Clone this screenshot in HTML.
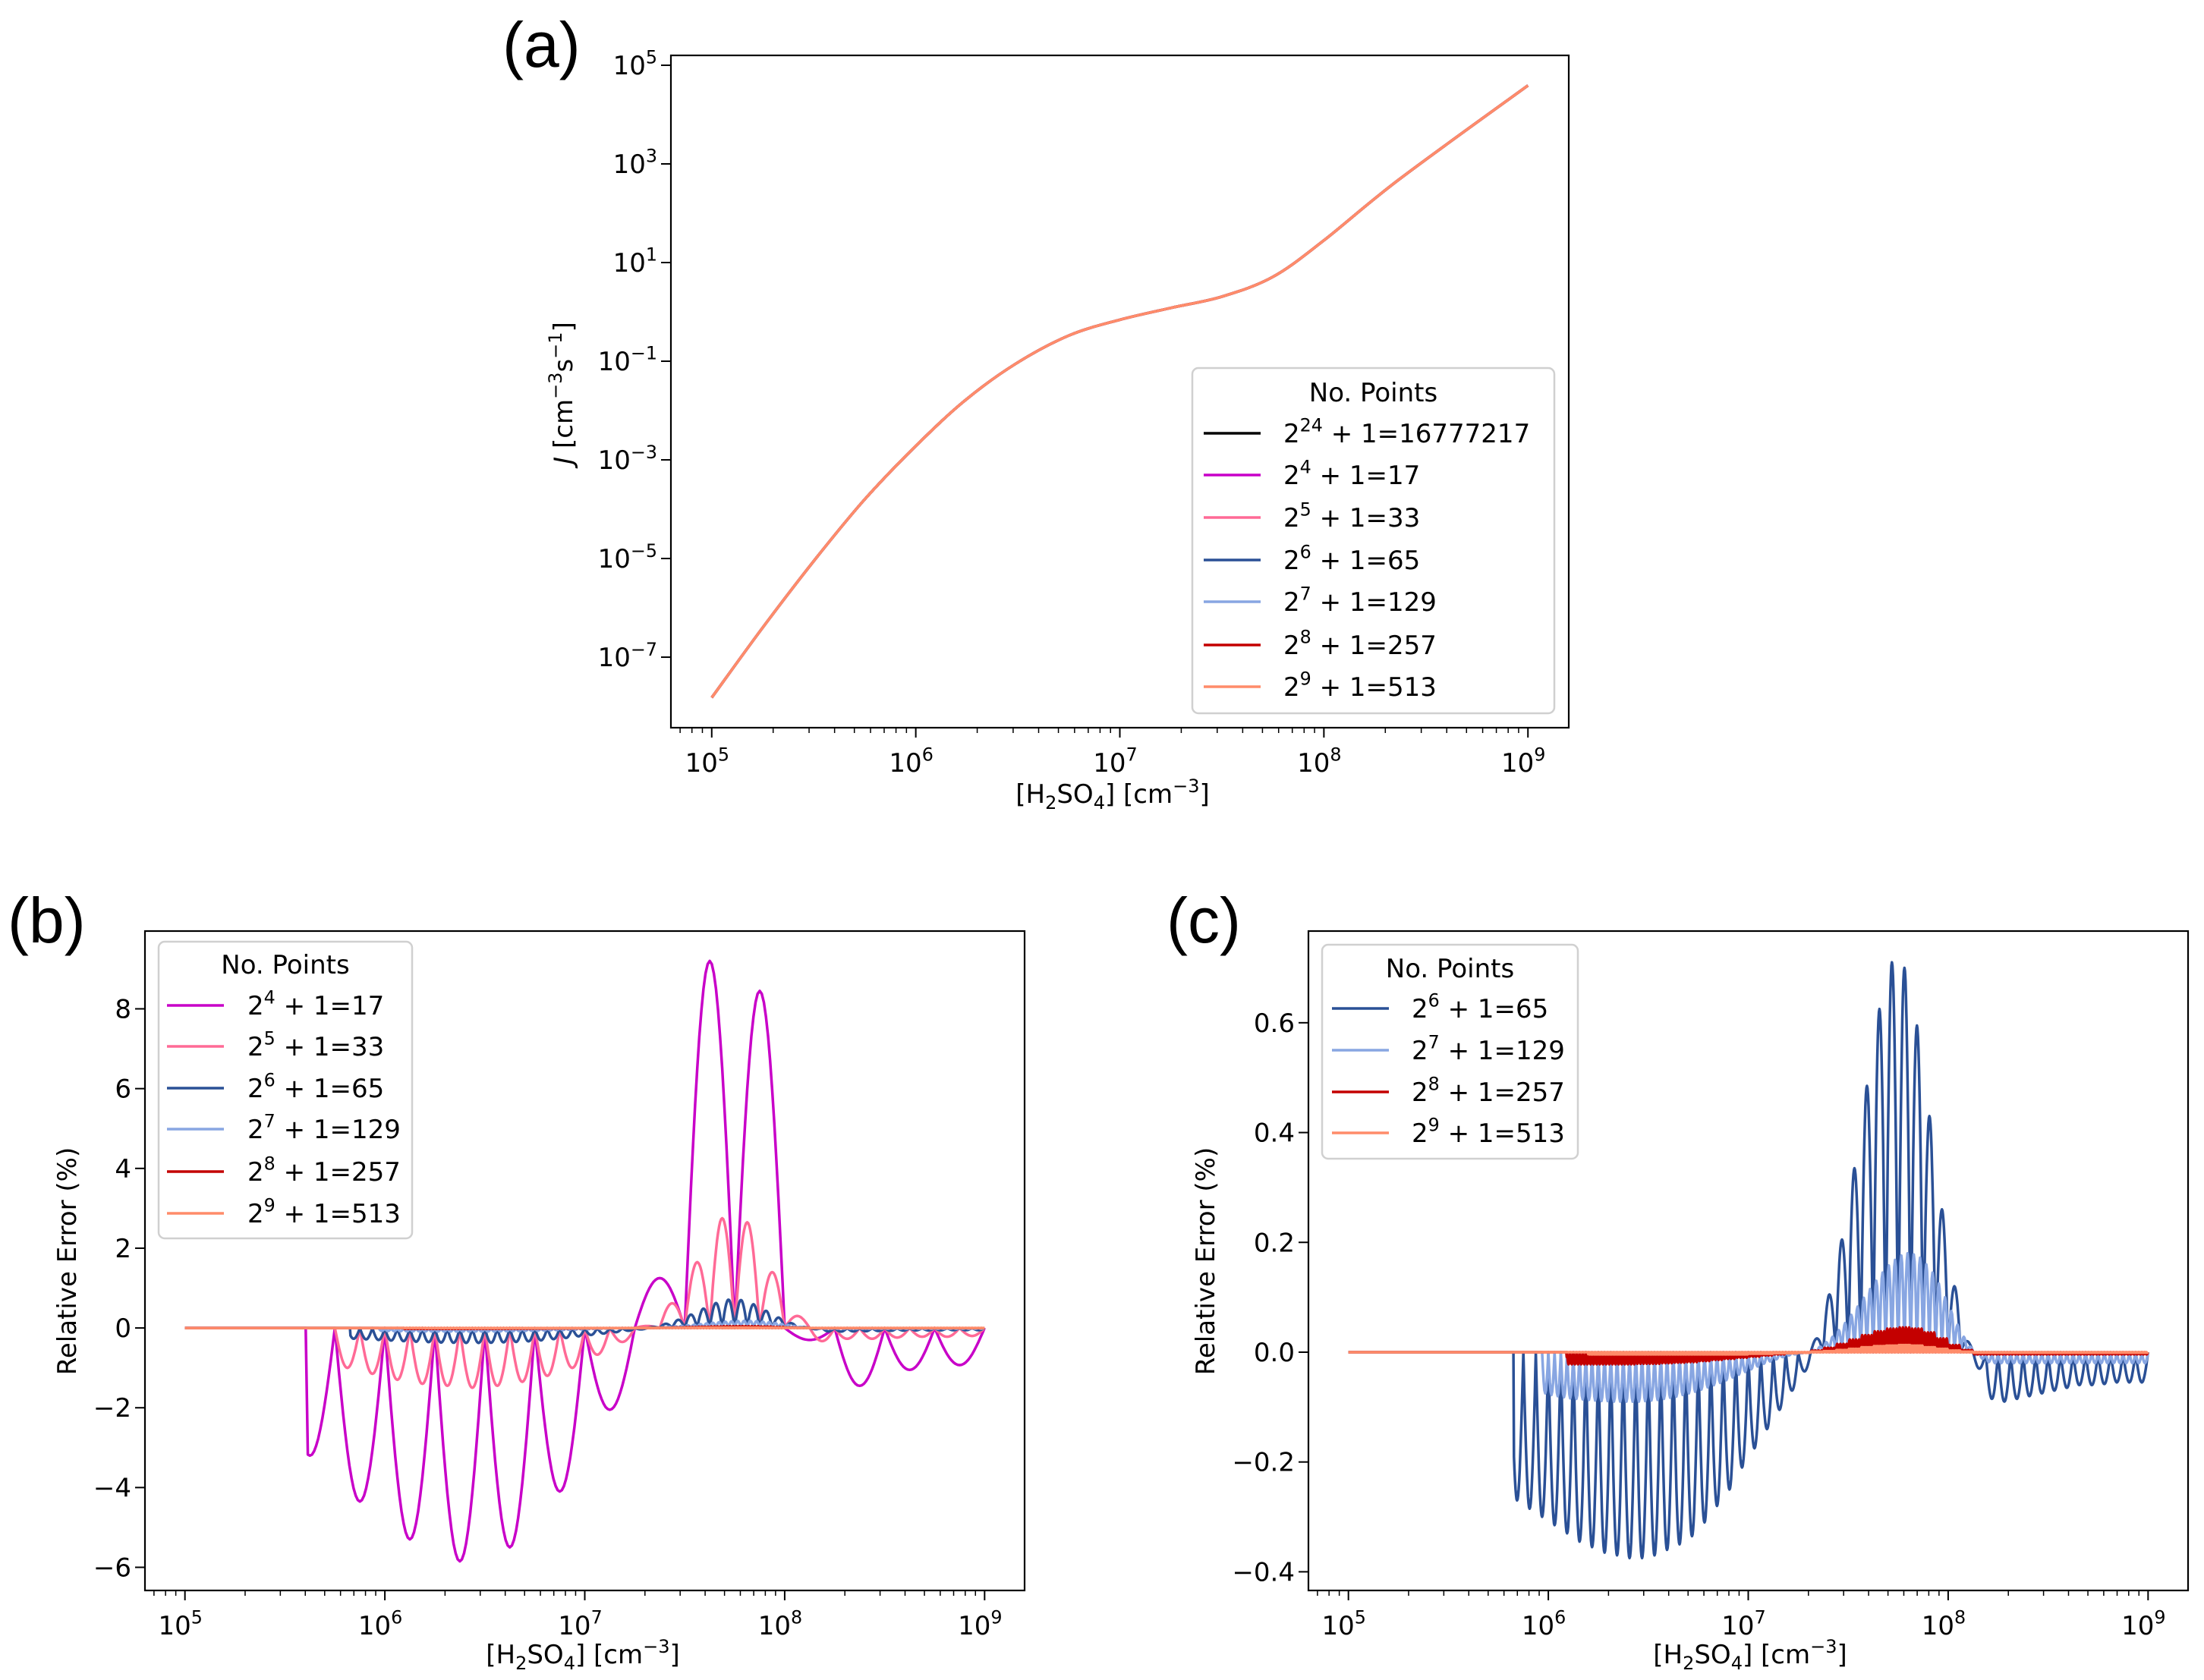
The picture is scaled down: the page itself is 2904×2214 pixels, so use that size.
<!DOCTYPE html>
<html><head><meta charset="utf-8"><style>
html,body{margin:0;padding:0;background:#fff;}
svg{display:block;font-family:"DejaVu Sans","Liberation Sans",sans-serif;}
</style></head><body>
<svg id="fig" width="2904" height="2214" viewBox="0 0 2904 2214" xmlns="http://www.w3.org/2000/svg"></svg>
<script>
// ---------- DATA ----------
// Panel (a): log10 x and log10 J
const aLogX = [5, 5.25, 5.51, 5.75, 6.0, 6.24, 6.49, 6.75, 7.0, 7.25, 7.5, 7.75, 8.0, 8.37, 9];
const aLogY = [-7.82, -6.4, -5.0, -3.8, -2.72, -1.80, -1.05, -0.48, -0.16, 0.08, 0.31, 0.71, 1.45, 2.69, 4.59];
const aSeriesNames = ['2^24+1', '2^4+1', '2^5+1', '2^6+1', '2^7+1', '2^8+1', '2^9+1'];
// Relative error (%) extremum per interval (or per group of intervals)
const errMag17 = [0, 0, -3.2, -4.35, -5.3, -5.85, -5.5, -4.1, -2.05, 1.25, 9.2, 8.45, -0.3, -1.45, -1.05, -0.93];
const errPink33 = [0, 0, 0, 0, 0, 0, -1.0, -1.15, -1.3, -1.4, -1.45, -1.5, -1.45, -1.35, -1.2, -1.0, -0.67, -0.35, 0.05, 0.62, 1.65, 2.75, 2.65, 1.4, 0.3, -0.33, -0.27, -0.27, -0.24, -0.22, -0.22, -0.2];
const errBlue65 = [0,0,0,0,0,0,0,0,0,0,0,0,0,
 -0.27,-0.285,-0.30,-0.315,-0.33,-0.345,-0.355,-0.365,-0.37,-0.375,-0.375,-0.37,-0.36,-0.35,-0.335,-0.31,-0.28,-0.25,-0.21,-0.175,-0.14,-0.105,-0.07,-0.035,
 0.025,0.105,0.205,0.335,0.485,0.625,0.71,0.70,0.595,0.43,0.26,0.12,0.02,
 -0.03,-0.085,-0.09,-0.085,-0.08,-0.075,-0.07,-0.065,-0.06,-0.06,-0.058,-0.055,-0.055,-0.055];
const errLBlue129 = [0,0,0,0,0,0,0,0,0,0,0,0,0,0,0,0,0,0,0,0,0,0,0,0,0,0,0,0,0,0,0,
 -0.075,-0.078,-0.08,-0.082,-0.084,-0.085,-0.086,-0.087,-0.088,-0.089,-0.089,-0.09,-0.09,-0.09,-0.09,-0.09,-0.089,-0.088,-0.087,-0.085,-0.083,-0.081,-0.078,-0.075,-0.072,-0.068,-0.064,-0.06,-0.056,-0.051,-0.046,-0.041,-0.036,-0.031,-0.026,-0.021,-0.017,-0.013,-0.009,-0.006,-0.004,-0.002,-0.001,
 0.004,0.01,0.018,0.028,0.04,0.053,0.068,0.083,0.099,0.115,0.13,0.145,0.158,0.168,0.176,0.18,0.178,0.172,0.16,0.145,0.125,0.1,0.075,0.05,0.028,0.01,
 -0.005,-0.012,-0.018,-0.02,-0.02,-0.02,-0.02,-0.02,-0.02,-0.02,-0.02,-0.02,-0.02,-0.02,-0.02,-0.02,-0.02,-0.02,-0.02,-0.02,-0.02,-0.02,-0.02,-0.02,-0.02,-0.02,-0.02,-0.02];
const errRed257 = [0,0,0,0,0,0,0,0,0,0,0,0,0,0,0,0,0,-0.022,
 -0.022,-0.022,-0.022,-0.022,-0.022,-0.021,-0.021,-0.02,-0.019,-0.018,-0.016,-0.014,-0.012,-0.01,-0.008,-0.006,-0.004,-0.002,-0.001,
 0.003,0.008,0.015,0.023,0.031,0.038,0.043,0.045,0.043,0.036,0.025,0.013,0.004,
 -0.004,-0.004,-0.004,-0.004,-0.004,-0.004,-0.004,-0.004,-0.004,-0.004,-0.004,-0.004,-0.004,-0.004];
const errSal513 = [0,0,0,0,0,0,0,0,0,0,0,0,0,0,0,0,0,
 -0.004,-0.004,-0.004,-0.004,-0.004,-0.004,-0.004,-0.004,-0.004,-0.004,-0.004,-0.004,-0.004,-0.004,-0.004,-0.003,-0.003,-0.002,-0.002,-0.001,
 0.001,0.002,0.004,0.006,0.009,0.011,0.012,0.013,0.012,0.009,0.006,0.003,0.001,
 -0.001,-0.001,-0.001,-0.001,-0.001,-0.001,-0.001,-0.001,-0.001,-0.001,-0.001,-0.001,-0.001,-0.001];
const nIntervals = [16, 32, 64, 128, 256, 512];
const cutoffLogX = [5.61, 5.74, 5.826, 5.97, 6.09, 6.2];
const bTicks = [-6, -4, -2, 0, 2, 4, 6, 8];
const cTicks = [-0.4, -0.2, 0.0, 0.2, 0.4, 0.6];
const aYTicks = [-7, -5, -3, -1, 1, 3, 5];
const xTicks = [5, 6, 7, 8, 9];

// ---------- HELPERS ----------
const NS = 'http://www.w3.org/2000/svg';
const svg = document.getElementById('fig');
function mk(tag, attrs, parent) {
  const e = document.createElementNS(NS, tag);
  for (const k in attrs) e.setAttribute(k, attrs[k]);
  (parent || svg).appendChild(e);
  return e;
}
function supText(parent, x, y, base, sup, rest, size, anchor, name) {
  const t = mk('text', {x: x, y: y, 'font-size': size, 'text-anchor': anchor || 'start', fill: '#000'}, parent);
  
  
  const t1 = mk('tspan', {}, t); t1.textContent = base;
  const t2 = mk('tspan', {dy: -size * 0.42, 'font-size': size * 0.7}, t); t2.textContent = sup;
  if (rest) { const t3 = mk('tspan', {dy: size * 0.42}, t); t3.textContent = rest; }
  return t;
}
function makeAxes(box, xlim, ylim, name) {
  const g = mk('g', {});
  
  
  const sx = v => box.l + (v - xlim[0]) / (xlim[1] - xlim[0]) * (box.r - box.l);
  const sy = v => box.b - (v - ylim[0]) / (ylim[1] - ylim[0]) * (box.b - box.t);
  return {g, sx, sy, box};
}
function drawFrame(ax, yTicks, yFmt, ylog) {
  const {g, sx, sy, box} = ax;
  const fr = mk('rect', {x: box.l, y: box.t, width: box.r - box.l, height: box.b - box.t, fill: 'none', stroke: '#000', 'stroke-width': 2.2}, g);
  
  
  for (let d = 4; d <= 9; d++) {
    for (let m = 1; m <= 9; m++) {
      const lv = d + Math.log10(m);
      const x = sx(lv);
      if (x < box.l || x > box.r) continue;
      const major = m === 1;
      mk('line', {x1: x, x2: x, y1: box.b, y2: box.b + (major ? 13 : 7), stroke: '#000', 'stroke-width': major ? 2 : 1.5}, g);
    }
  }
  xTicks.forEach(v => {
    supText(g, sx(v) - 6, box.b + 58, '10', String(v), '', 34, 'middle', 'x-tick-label');
  });
  yTicks.forEach(v => {
    const y = sy(v);
    mk('line', {x1: box.l - 13, x2: box.l, y1: y, y2: y, stroke: '#000', 'stroke-width': 2}, g);
    if (ylog) {
      const s = v < 0 ? '\u2212' + Math.abs(v) : String(v);
      supText(g, box.l - 18, y + 12, '10', s, '', 34, 'end', 'y-tick-label');
    } else {
      const t = mk('text', {x: box.l - 18, y: y + 12, 'font-size': 34, 'text-anchor': 'end'}, g);
      
      
      t.textContent = yFmt(v);
    }
  });
}
function linePath(ax, xs, ys, color, width, name) {
  let d = '';
  for (let i = 0; i < xs.length; i++) d += (i ? 'L' : 'M') + ax.sx(xs[i]).toFixed(1) + ' ' + ax.sy(ys[i]).toFixed(1);
  const p = mk('path', {d: d, fill: 'none', stroke: color, 'stroke-width': width, 'stroke-linejoin': 'round'}, ax.g);
  
  
  return p;
}
function smoothPath(ax, xs, ys, color, width, name) {
  const P = xs.map((x, i) => [ax.sx(x), ax.sy(ys[i])]);
  let d = 'M' + P[0][0].toFixed(1) + ' ' + P[0][1].toFixed(1);
  for (let i = 0; i < P.length - 1; i++) {
    const p0 = P[Math.max(0, i - 1)], p1 = P[i], p2 = P[i + 1], p3 = P[Math.min(P.length - 1, i + 2)];
    const c1 = [p1[0] + (p2[0] - p0[0]) / 6, p1[1] + (p2[1] - p0[1]) / 6];
    const c2 = [p2[0] - (p3[0] - p1[0]) / 6, p2[1] - (p3[1] - p1[1]) / 6];
    d += 'C' + c1[0].toFixed(1) + ' ' + c1[1].toFixed(1) + ' ' + c2[0].toFixed(1) + ' ' + c2[1].toFixed(1) + ' ' + p2[0].toFixed(1) + ' ' + p2[1].toFixed(1);
  }
  const p = mk('path', {d: d, fill: 'none', stroke: color, 'stroke-width': width, 'stroke-linejoin': 'round'}, ax.g);
  
  
  return p;
}
function errSeries(ax, amps, nInt, cutoff, color, name) {
  const xs = [], ys = [];
  const w = 4 / nInt, S = nInt <= 64 ? 24 : 8;
  for (let i = 0; i < nInt; i++) {
    const a = amps[Math.floor(i * amps.length / nInt)];
    for (let s = (i ? 1 : 0); s <= S; s++) {
      const t = s / S, lx = 5 + (i + t) * w;
      xs.push(lx);
      ys.push(lx < cutoff ? 0 : a * Math.sin(Math.PI * t));
    }
  }
  return linePath(ax, xs, ys, color, 3.5, name);
}
function legend(x, y, w, h, titleY, rows, entries, hx, tx, name) {
  const g = mk('g', {});
  
  
  mk('rect', {x: x, y: y, width: w, height: h, rx: 8, fill: '#fff', 'fill-opacity': 0.85, stroke: '#d0d0d0', 'stroke-width': 2.5}, g);
  const tt = mk('text', {x: x + w / 2, y: titleY + 12, 'font-size': 34, 'text-anchor': 'middle'}, g);
  
  
  tt.textContent = 'No. Points';
  entries.forEach((e, i) => {
    const ln = mk('line', {x1: hx, x2: hx + 75, y1: rows[i], y2: rows[i], stroke: e[0], 'stroke-width': 3.5}, g);
    
    
    supText(g, tx, rows[i] + 12, '2', e[1], ' + 1=' + e[2], 34, 'start', 'legend-entry');
  });
}
function panelLabel(x, y, txt, name) {
  const t = mk('text', {x: x, y: y, 'font-size': 84, 'font-family': '"Liberation Sans",sans-serif'});
  
  
  t.textContent = txt;
}
function xLabel(ax, cx, y) {
  const t = mk('text', {x: cx, y: y, 'font-size': 34, 'text-anchor': 'middle'}, ax.g);
  
  
  const a = mk('tspan', {}, t); a.textContent = '[H';
  const b = mk('tspan', {dy: 8, 'font-size': 24}, t); b.textContent = '2';
  const c = mk('tspan', {dy: -8}, t); c.textContent = 'SO';
  const d = mk('tspan', {dy: 8, 'font-size': 24}, t); d.textContent = '4';
  const e = mk('tspan', {dy: -8}, t); e.textContent = '] [cm';
  const f = mk('tspan', {dy: -14, 'font-size': 24}, t); f.textContent = '\u22123';
  const h = mk('tspan', {dy: 14}, t); h.textContent = ']';
}

const colors = ['#000000', '#c800c8', '#ff6a96', '#2a5096', '#88a6e2', '#c40000', '#ff8c6a'];

// ---------- PANEL A ----------
const axA = makeAxes({l: 884, r: 2067, t: 73, b: 959}, [4.8, 9.2], [-8.43, 5.2], 'panel-a-axes');
colors.forEach((c, i) => {
  smoothPath(axA, aLogX, aLogY, c, 3.5, 'j-line-' + i);
});
drawFrame(axA, aYTicks, null, true);
xLabel(axA, 1466, 1058);
{
  const t = mk('text', {x: 0, y: 0, 'font-size': 34, 'text-anchor': 'middle', transform: 'translate(754,518) rotate(-90)'}, axA.g);
  
  
  const a = mk('tspan', {'font-style': 'italic'}, t); a.textContent = 'J ';
  const b = mk('tspan', {}, t); b.textContent = '[cm';
  const c = mk('tspan', {dy: -14, 'font-size': 24}, t); c.textContent = '\u22123';
  const d = mk('tspan', {dy: 14}, t); d.textContent = 's';
  const e = mk('tspan', {dy: -14, 'font-size': 24}, t); e.textContent = '\u22121';
  const f = mk('tspan', {dy: 14}, t); f.textContent = ']';
}
legend(1571, 485, 477, 455, 517, [571, 626, 682, 738, 793, 850, 905],
  [[colors[0], '24', '16777217'], [colors[1], '4', '17'], [colors[2], '5', '33'], [colors[3], '6', '65'], [colors[4], '7', '129'], [colors[5], '8', '257'], [colors[6], '9', '513']],
  1586, 1691, 'legend-a');
panelLabel(662, 88, '(a)', 'panel-label-a');

// ---------- PANEL B ----------
const axB = makeAxes({l: 191, r: 1350, t: 1227, b: 2096}, [4.8, 9.2], [-6.58, 9.95], 'panel-b-axes');
const bSets = [errMag17, errPink33, errBlue65, errLBlue129, errRed257, errSal513];
bSets.forEach((s, i) => {
  errSeries(axB, s, nIntervals[i], cutoffLogX[i], colors[i + 1], 'error-line-b-' + i);
});
drawFrame(axB, bTicks, v => v < 0 ? '\u2212' + Math.abs(v) : String(v), false);
xLabel(axB, 768, 2192);
{
  const t = mk('text', {x: 0, y: 0, 'font-size': 34, 'text-anchor': 'middle', transform: 'translate(100,1662) rotate(-90)'}, axB.g);
  
  
  t.textContent = 'Relative Error (%)';
}
legend(209, 1241, 334, 391, 1271, [1325, 1379, 1434, 1488, 1544, 1599],
  [[colors[1], '4', '17'], [colors[2], '5', '33'], [colors[3], '6', '65'], [colors[4], '7', '129'], [colors[5], '8', '257'], [colors[6], '9', '513']],
  220, 326, 'legend-b');
panelLabel(10, 1242, '(b)', 'panel-label-b');

// ---------- PANEL C ----------
const axC = makeAxes({l: 1724, r: 2883, t: 1227, b: 2096}, [4.8, 9.2], [-0.434, 0.767], 'panel-c-axes');
[2, 3, 4, 5].forEach(i => {
  errSeries(axC, bSets[i], nIntervals[i], cutoffLogX[i], colors[i + 1], 'error-line-c-' + i);
});
drawFrame(axC, cTicks, v => (v < 0 ? '\u2212' : '') + Math.abs(v).toFixed(1), false);
xLabel(axC, 2306, 2192);
{
  const t = mk('text', {x: 0, y: 0, 'font-size': 34, 'text-anchor': 'middle', transform: 'translate(1600,1662) rotate(-90)'}, axC.g);
  
  
  t.textContent = 'Relative Error (%)';
}
legend(1742, 1245, 337, 282, 1276, [1329, 1384, 1439, 1493],
  [[colors[3], '6', '65'], [colors[4], '7', '129'], [colors[5], '8', '257'], [colors[6], '9', '513']],
  1755, 1860, 'legend-c');
panelLabel(1537, 1242, '(c)', 'panel-label-c');
</script>
</body></html>
